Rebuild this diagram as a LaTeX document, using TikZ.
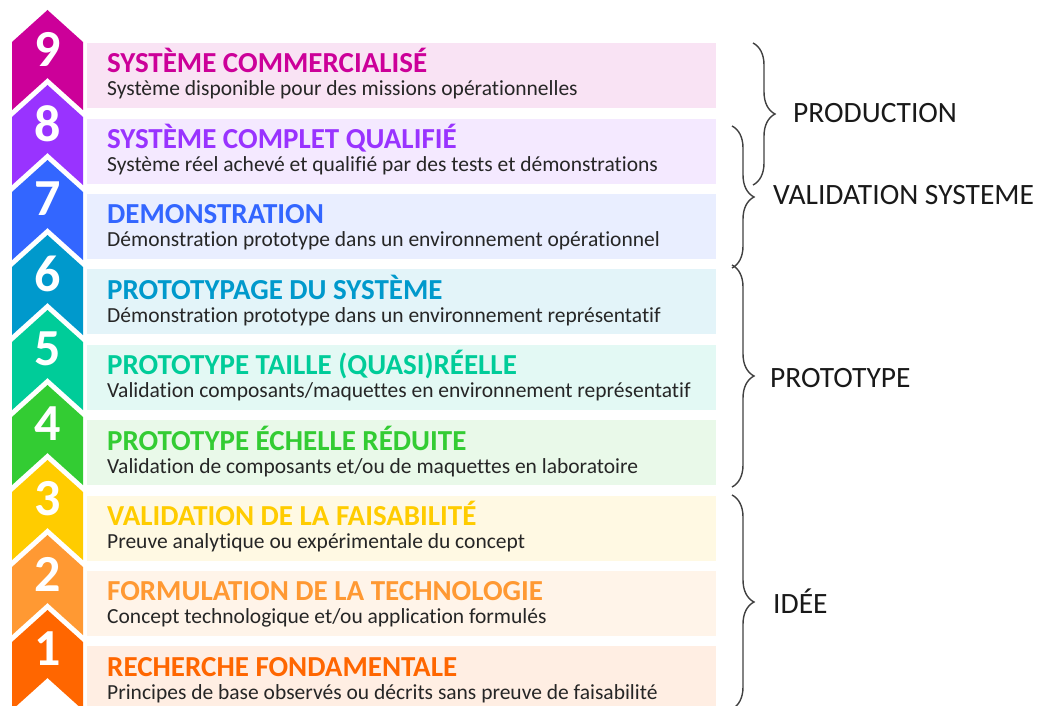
\documentclass[tikz,border=0pt]{standalone}
\usepackage{fontspec}
\setmainfont{Carlito}[Ligatures=NoCommon]
\usepackage{xcolor}
\usetikzlibrary{positioning,decorations.pathreplacing}

\definecolor{trl9}{HTML}{CC0099}
\definecolor{trl8}{HTML}{9933FF}
\definecolor{trl7}{HTML}{3366FF}
\definecolor{trl6}{HTML}{0099CC}
\definecolor{trl5}{HTML}{00CC99}
\definecolor{trl4}{HTML}{33CC33}
\definecolor{trl3}{HTML}{FFCC00}
\definecolor{trl2}{HTML}{FF9933}
\definecolor{trl1}{HTML}{FF6600}
\definecolor{desctext}{HTML}{262626}

\begin{document}
\begin{tikzpicture}[x=1pt, y=-1pt]
        \tikzset{
            level/.style = {rectangle, minimum width=629pt, minimum height=65pt, inner sep=0pt, anchor=north west},
            title/.style = {anchor=base west, inner sep=0pt, font=\fontsize{29}{32}\selectfont\bfseries},
            desc/.style = {anchor=base west, inner sep=0pt, text=desctext, font=\fontsize{21.5}{24}\selectfont},
            num/.style = {inner sep=0pt, text=white, font=\fontsize{52}{52}\selectfont\bfseries},
            phase/.style = {anchor=west, inner sep=0pt, text=black!90, font=\fontsize{29.5}{32}\selectfont},
            bracket/.style = {decorate, decoration={brace, amplitude=22pt}, draw=black!75, line width=1.4pt}
        }
        \clip (0,0) rectangle (1043,706);

        % chevrons
        \fill [trl9] (47.5,10)  -- ++(35.5,32) -- ++(0,68) -- ++(-35.5,-32) -- ++(-35.5,32) -- ++(0,-68) -- cycle;
        \fill [trl8] (47.5,85)  -- ++(35.5,32) -- ++(0,68) -- ++(-35.5,-32) -- ++(-35.5,32) -- ++(0,-68) -- cycle;
        \fill [trl7] (47.5,160) -- ++(35.5,32) -- ++(0,68) -- ++(-35.5,-32) -- ++(-35.5,32) -- ++(0,-68) -- cycle;
        \fill [trl6] (47.5,235) -- ++(35.5,32) -- ++(0,68) -- ++(-35.5,-32) -- ++(-35.5,32) -- ++(0,-68) -- cycle;
        \fill [trl5] (47.5,310) -- ++(35.5,32) -- ++(0,68) -- ++(-35.5,-32) -- ++(-35.5,32) -- ++(0,-68) -- cycle;
        \fill [trl4] (47.5,385) -- ++(35.5,32) -- ++(0,68) -- ++(-35.5,-32) -- ++(-35.5,32) -- ++(0,-68) -- cycle;
        \fill [trl3] (47.5,460) -- ++(35.5,32) -- ++(0,68) -- ++(-35.5,-32) -- ++(-35.5,32) -- ++(0,-68) -- cycle;
        \fill [trl2] (47.5,535) -- ++(35.5,32) -- ++(0,68) -- ++(-35.5,-32) -- ++(-35.5,32) -- ++(0,-68) -- cycle;
        \fill [trl1] (47.5,610) -- ++(35.5,32) -- ++(0,68) -- ++(-35.5,-32) -- ++(-35.5,32) -- ++(0,-68) -- cycle;

        \node (n9) [num] at (47.5,49)  {9};
        \node (n8) [num] at (47.5,124) {8};
        \node (n7) [num] at (47.5,199) {7};
        \node (n6) [num] at (47.5,274) {6};
        \node (n5) [num] at (47.5,349) {5};
        \node (n4) [num] at (47.5,424) {4};
        \node (n3) [num] at (47.5,499) {3};
        \node (n2) [num] at (47.5,574) {2};
        \node (n1) [num] at (47.5,649) {1};

        % levels
        \node (lvl9) [level, fill=trl9!11] at (87,43) {};
        \node (lvl8) [level, fill=trl8!11, below=10pt of lvl9] {};
        \node (lvl7) [level, fill=trl7!11, below=10pt of lvl8] {};
        \node (lvl6) [level, fill=trl6!11, below=10pt of lvl7] {};
        \node (lvl5) [level, fill=trl5!11, below=10pt of lvl6] {};
        \node (lvl4) [level, fill=trl4!11, below=10pt of lvl5] {};
        \node (lvl3) [level, fill=trl3!11, below=10pt of lvl4] {};
        \node (lvl2) [level, fill=trl2!11, below=10pt of lvl3] {};
        \node (lvl1) [level, fill=trl1!11, below=10pt of lvl2] {};

        \node (title9) [title, text=trl9] at ([xshift=20pt, yshift=-30pt]lvl9.north west) {SYSTÈME COMMERCIALISÉ};
        \node (desc9)  [desc] at ([xshift=20pt, yshift=-53pt]lvl9.north west) {Système disponible pour des missions opérationnelles};
        \node (title8) [title, text=trl8] at ([xshift=20pt, yshift=-30pt]lvl8.north west) {SYSTÈME COMPLET QUALIFIÉ};
        \node (desc8)  [desc] at ([xshift=20pt, yshift=-53pt]lvl8.north west) {Système réel achevé et qualifié par des tests et démonstrations};
        \node (title7) [title, text=trl7] at ([xshift=20pt, yshift=-30pt]lvl7.north west) {DEMONSTRATION};
        \node (desc7)  [desc] at ([xshift=20pt, yshift=-53pt]lvl7.north west) {Démonstration prototype dans un environnement opérationnel};
        \node (title6) [title, text=trl6] at ([xshift=20pt, yshift=-30pt]lvl6.north west) {PROTOTYPAGE DU SYSTÈME};
        \node (desc6)  [desc] at ([xshift=20pt, yshift=-53pt]lvl6.north west) {Démonstration prototype dans un environnement représentatif};
        \node (title5) [title, text=trl5] at ([xshift=20pt, yshift=-30pt]lvl5.north west) {PROTOTYPE TAILLE (QUASI)RÉELLE};
        \node (desc5)  [desc] at ([xshift=20pt, yshift=-53pt]lvl5.north west) {Validation composants/maquettes en environnement représentatif};
        \node (title4) [title, text=trl4] at ([xshift=20pt, yshift=-30pt]lvl4.north west) {PROTOTYPE ÉCHELLE RÉDUITE};
        \node (desc4)  [desc] at ([xshift=20pt, yshift=-53pt]lvl4.north west) {Validation de composants et/ou de maquettes en laboratoire};
        \node (title3) [title, text=trl3] at ([xshift=20pt, yshift=-30pt]lvl3.north west) {VALIDATION DE LA FAISABILITÉ};
        \node (desc3)  [desc] at ([xshift=20pt, yshift=-53pt]lvl3.north west) {Preuve analytique ou expérimentale du concept};
        \node (title2) [title, text=trl2] at ([xshift=20pt, yshift=-30pt]lvl2.north west) {FORMULATION DE LA TECHNOLOGIE};
        \node (desc2)  [desc] at ([xshift=20pt, yshift=-53pt]lvl2.north west) {Concept technologique et/ou application formulés};
        \node (title1) [title, text=trl1] at ([xshift=20pt, yshift=-30pt]lvl1.north west) {RECHERCHE FONDAMENTALE};
        \node (desc1)  [desc] at ([xshift=20pt, yshift=-53pt]lvl1.north west) {Principes de base observés ou décrits sans preuve de faisabilité};

        % phases
        \draw [bracket] (753,43) -- (753,185);
        \node (production) [phase] at (793,113) {PRODUCTION};
        \draw [bracket] (732,126) -- (732,268);
        \node (validation) [phase] at (773,195) {VALIDATION SYSTEME};
        \draw [bracket] (732,265) -- (732,487);
        \node (prototype) [phase] at (770,378) {PROTOTYPE};
        \draw [bracket] (732,495) -- (732,709);
        \node (idee) [phase] at (773,601) {IDÉE};

    \end{tikzpicture}
\end{document}
